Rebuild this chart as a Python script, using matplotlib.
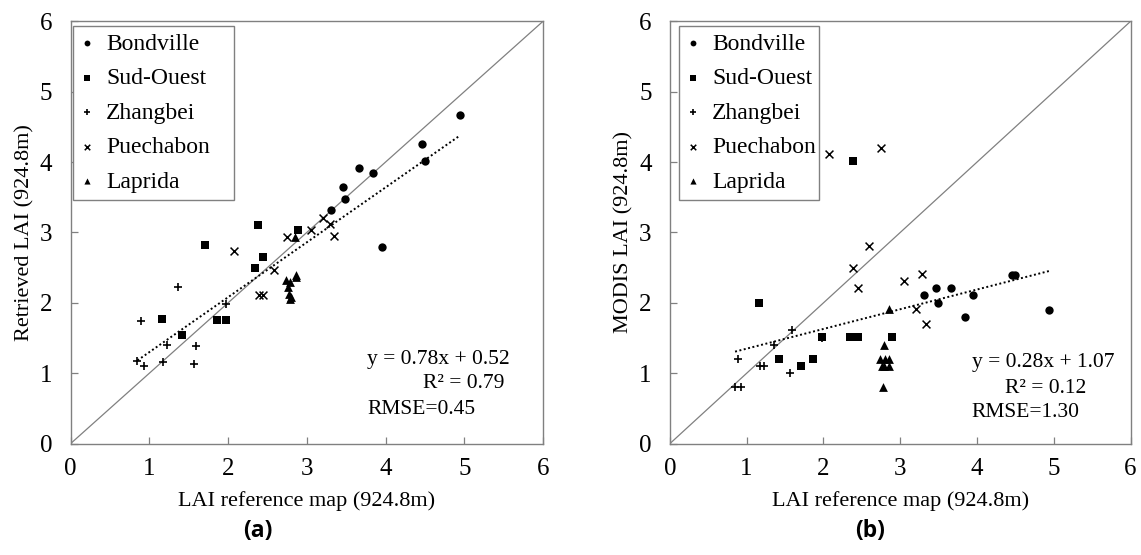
import matplotlib
matplotlib.use("Agg")
import matplotlib.pyplot as plt
import numpy as np

# ---------------- data ----------------
sites = ["Bondville", "Sud-Ouest", "Zhangbei", "Puechabon", "Laprida"]
markers = ["o", "s", "+", "x", "^"]

ref_bondville = [4.94, 4.46, 4.50, 3.66, 3.84, 3.46, 3.49, 3.31, 3.95]
ret_bondville = [4.67, 4.26, 4.02, 3.92, 3.85, 3.65, 3.47, 3.32, 2.80]
mod_bondville = [1.90, 2.40, 2.40, 2.21, 1.80, 2.21, 2.00, 2.11, 2.11]

ref_sudouest = [2.38, 1.71, 2.89, 2.45, 2.34, 1.16, 1.86, 1.98, 1.42]
ret_sudouest = [3.11, 2.82, 3.03, 2.65, 2.49, 1.77, 1.76, 1.76, 1.54]
mod_sudouest = [4.01, 1.10, 1.51, 1.51, 1.51, 2.00, 1.20, 1.51, 1.20]

ref_zhangbei = [1.36, 0.89, 0.85, 0.93, 1.17, 1.23, 1.59, 1.57, 1.98]
ret_zhangbei = [2.22, 1.74, 1.18, 1.11, 1.16, 1.40, 1.39, 1.13, 1.99]
mod_zhangbei = [1.40, 1.20, 0.81, 0.81, 1.10, 1.10, 1.61, 1.00, 1.50]

ref_puechabon = [2.07, 2.75, 3.05, 3.20, 3.29, 3.34, 2.59, 2.39, 2.45]
ret_puechabon = [2.74, 2.93, 3.03, 3.20, 3.12, 2.95, 2.47, 2.11, 2.11]
mod_puechabon = [4.11, 4.20, 2.31, 1.91, 2.41, 1.70, 2.81, 2.50, 2.21]

ref_laprida = [2.85, 2.86, 2.86, 2.74, 2.79, 2.76, 2.78, 2.80, 2.79]
ret_laprida = [2.93, 2.40, 2.37, 2.32, 2.29, 2.22, 2.12, 2.09, 2.06]
mod_laprida = [1.91, 1.20, 1.10, 1.20, 1.10, 1.10, 0.80, 1.20, 1.40]

ref_all = [ref_bondville, ref_sudouest, ref_zhangbei, ref_puechabon, ref_laprida]
ret_all = [ret_bondville, ret_sudouest, ret_zhangbei, ret_puechabon, ret_laprida]
mod_all = [mod_bondville, mod_sudouest, mod_zhangbei, mod_puechabon, mod_laprida]

fit_a = (0.78, 0.52)
fit_b = (0.28, 1.07)
eq_a = ["y = 0.78x + 0.52", "R² = 0.79", "RMSE=0.45"]
eq_b = ["y = 0.28x + 1.07", "R² = 0.12", "RMSE=1.30"]
ylabels = ["Retrieved LAI (924.8m)", "MODIS LAI (924.8m)"]
xlabel = "LAI reference map (924.8m)"
panel_labels = ["(a)", "(b)"]
ticks = [0, 1, 2, 3, 4, 5, 6]

# ---------------- figure ----------------
W, H = 1141, 555
fig = plt.figure(figsize=(W / 100, H / 100), dpi=100)
serif = "Liberation Serif"
gray = "#808080"

ax_a = fig.add_axes([70.5 / W, (H - 443.7) / H, 472.5 / W, 422.4 / H])
ax_b = fig.add_axes([669.8 / W, (H - 443.7) / H, 460.8 / W, 422.4 / H])

sizes = {"o": 36, "s": 32, "+": 36, "x": 32, "^": 40}
lws = {"o": 0, "s": 0, "+": 1.2, "x": 1.1, "^": 0}

configs = [
    (ax_a, ret_all, fit_a, eq_a, ylabels[0], panel_labels[0],
     [(3.77, 1.19), (4.48, 0.86), (3.77, 0.48)], (0.005, 0.585, 0.341, 0.404), 258),
    (ax_b, mod_all, fit_b, eq_b, ylabels[1], panel_labels[1],
     [(3.93, 1.16), (4.36, 0.79), (3.93, 0.45)], (0.020, 0.585, 0.304, 0.404), 870),
]

for ax, ys_all, fit, eq, ylab, plab, eqpos, legbox, labx in configs:
    ax.plot([0, 6], [0, 6], color=gray, lw=0.9, zorder=1)
    handles = []
    for name, m, xs, ys in zip(sites, markers, ref_all, ys_all):
        h = ax.scatter(xs, ys, marker=m, s=sizes[m], color="black",
                       linewidths=lws[m], zorder=3, label=name)
        handles.append(h)
    allx = np.concatenate([np.asarray(x) for x in ref_all])
    xl = np.array([allx.min(), allx.max()])
    ax.plot(xl, fit[0] * xl + fit[1], color="black", lw=1.4,
            linestyle=(0, (1, 1.3)), zorder=2)
    for txt, (tx, ty) in zip(eq, eqpos):
        ax.text(tx, ty, txt, fontsize=15.5, family=serif, ha="left", va="center")
    ax.set_xlim(0, 6)
    ax.set_ylim(0, 6)
    ax.set_xticks(ticks)
    ax.set_yticks(ticks)
    ax.tick_params(direction="in", length=5, width=0.9, color=gray,
                   labelsize=18, pad=10)
    ax.tick_params(axis="y", pad=13)
    for lab in ax.get_xticklabels() + ax.get_yticklabels():
        lab.set_family(serif)
    for sp in ax.spines.values():
        sp.set_color(gray)
        sp.set_linewidth(1.0)
    ax.set_xlabel(xlabel, fontsize=16, family=serif, labelpad=8)
    ax.set_ylabel(ylab, fontsize=16, family=serif, labelpad=4)
    leg = ax.legend(handles=handles, loc="upper left", bbox_to_anchor=legbox,
                    mode="expand", prop={"family": serif, "size": 17},
                    markerscale=0.7, handlelength=0.6, handletextpad=0.5,
                    labelspacing=0.55, borderpad=0.3, borderaxespad=0,
                    fancybox=False, framealpha=1, edgecolor=gray)
    leg.get_frame().set_linewidth(1.0)
    fig.text(labx / W, 1 - 531 / H, plab, ha="center", va="center",
             fontsize=16.5, family="Open Sans", fontweight="bold")

fig.savefig("out.png", dpi=100)
